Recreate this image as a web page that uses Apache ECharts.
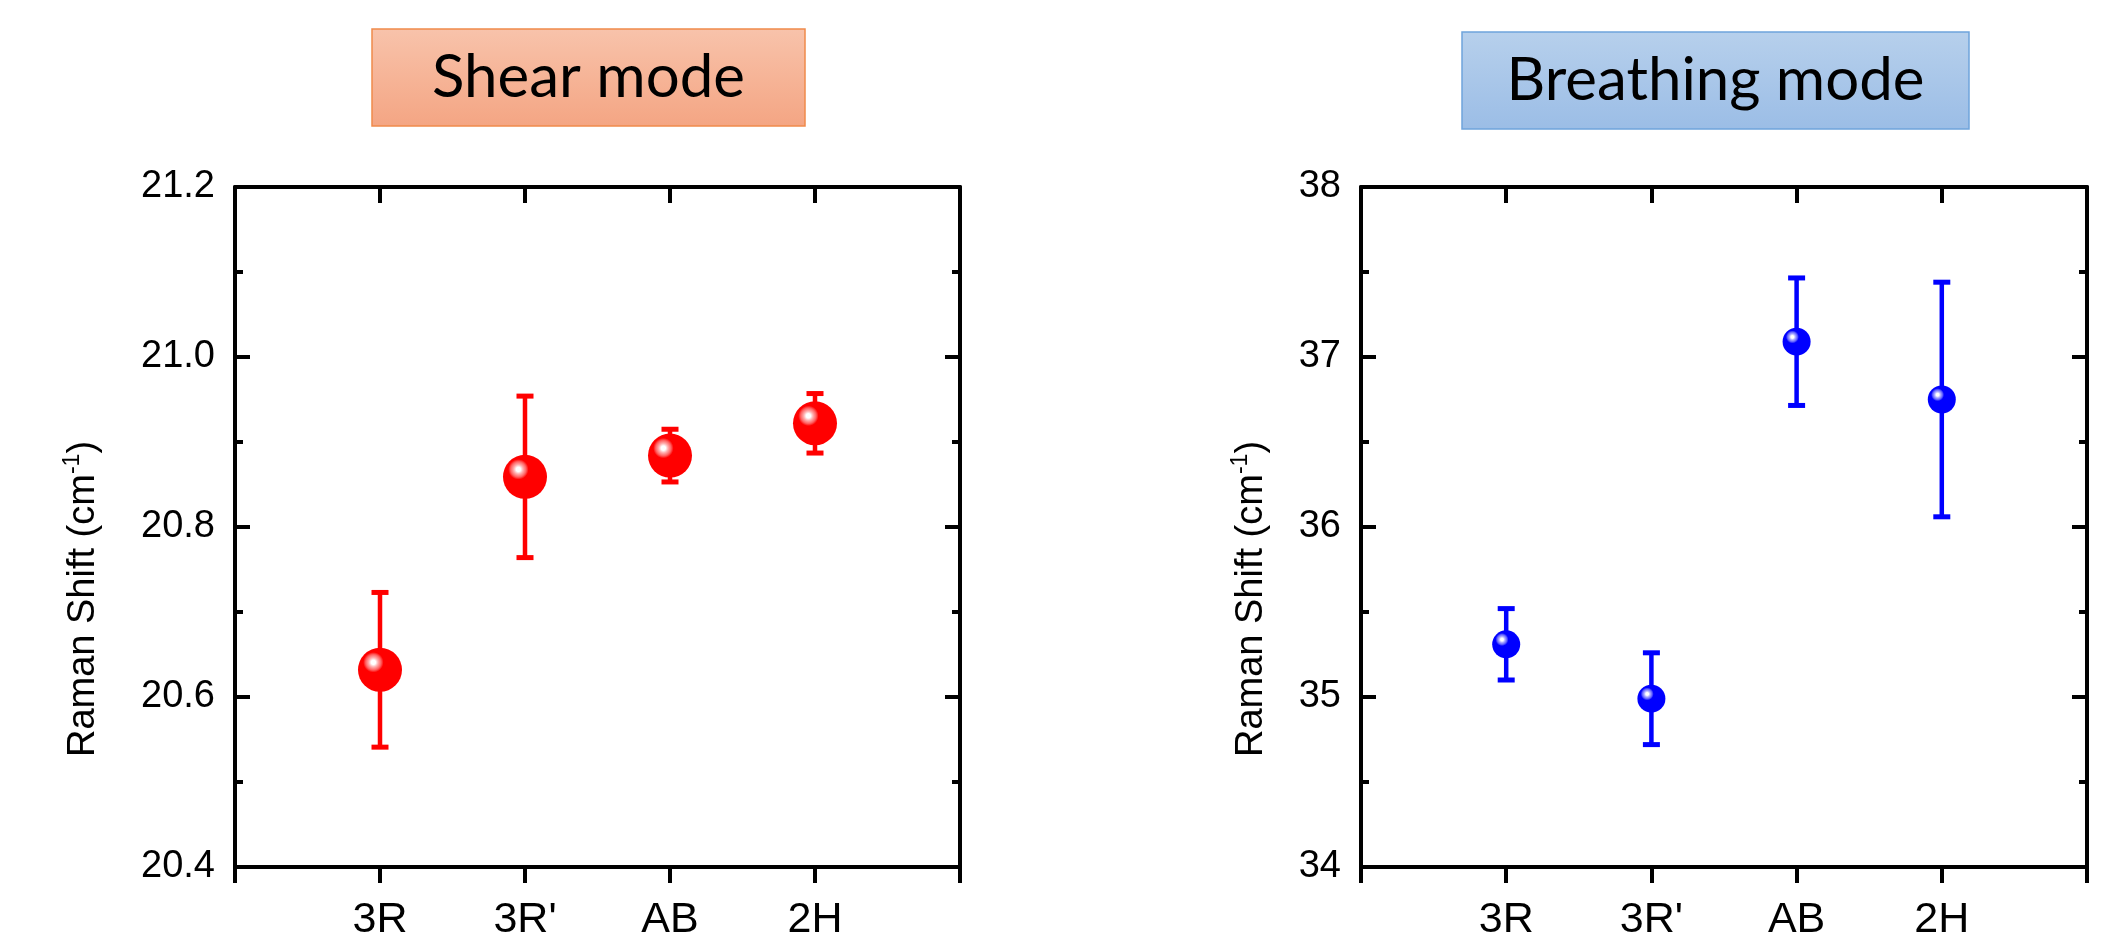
<!DOCTYPE html>
<html>
<head>
<meta charset="utf-8">
<script src="https://cdn.jsdelivr.net/npm/echarts@6/dist/echarts.min.js"></script>
<style>
html,body{margin:0;padding:0;background:#fff;}
#chart{width:2105px;height:951px;}
</style>
</head>
<body>
<div id="chart"></div>
<script>
const categories = ['3R', "3R'", 'AB', '2H'];
const shearValues = [20.632, 20.859, 20.884, 20.922];
const shearErrors = [0.091, 0.095, 0.031, 0.035];
const breathingValues = [35.31, 34.99, 37.09, 36.75];
const breathingErrors = [0.21, 0.27, 0.375, 0.69];
const shearRange = [20.4, 21.2, 0.2];
const breathingRange = [34, 38, 1];
const panelTitles = ['Shear mode', 'Breathing mode'];
const yAxisTitle = 'Raman Shift (cm';
const yAxisTitleSup = '-1';

const FONT = '"Liberation Sans", Arial, sans-serif';
const BOXFONT = 'Lato, "Open Sans", sans-serif';

const chart = echarts.init(document.getElementById('chart'), null, {renderer: 'canvas'});

function sphere(base, mid, light) {
  return {
    type: 'radial', x: 0.35, y: 0.33, r: 0.42,
    colorStops: [
      {offset: 0, color: '#ffffff'},
      {offset: 0.12, color: '#ffffff'},
      {offset: 0.25, color: light},
      {offset: 0.42, color: mid},
      {offset: 0.55, color: base},
      {offset: 1, color: base}
    ]
  };
}

function xAxes(gridIndex) {
  const common = {
    gridIndex, type: 'value', min: 0, max: 5, interval: 1,
    axisLine: {show: true, onZero: false, lineStyle: {color: '#000', width: 4}},
    splitLine: {show: false}
  };
  return [
    Object.assign({}, common, {
      position: 'bottom',
      axisTick: {show: true, inside: false, length: 16, lineStyle: {color: '#000', width: 4}},
      axisLabel: {
        show: true, margin: 32, color: '#000', fontSize: 43, fontFamily: FONT,
        showMinLabel: true, showMaxLabel: true,
        formatter: v => (v >= 1 && v <= categories.length) ? categories[Math.round(v) - 1] : ''
      }
    }),
    Object.assign({}, common, {
      position: 'top',
      axisTick: {show: true, inside: true, length: 16, lineStyle: {color: '#000', width: 4}},
      axisLabel: {show: false}
    })
  ];
}

function yAxes(gridIndex, range, digits) {
  const common = {
    gridIndex, type: 'value', min: range[0], max: range[1], interval: range[2],
    axisLine: {show: true, onZero: false, lineStyle: {color: '#000', width: 4}},
    axisTick: {show: true, inside: true, length: 15, lineStyle: {color: '#000', width: 4}},
    minorTick: {show: true, splitNumber: 2, length: 8, lineStyle: {color: '#000', width: 4}},
    splitLine: {show: false},
    minorSplitLine: {show: false}
  };
  return [
    Object.assign({}, common, {
      position: 'left',
      axisLabel: {show: true, margin: 20, color: '#000', fontSize: 38, fontFamily: FONT,
        formatter: v => v.toFixed(digits)}
    }),
    Object.assign({}, common, {
      position: 'right',
      axisLabel: {show: false}
    })
  ];
}

function errorSeries(xIdx, yIdx, values, errors, color) {
  return {
    type: 'custom', xAxisIndex: xIdx, yAxisIndex: yIdx, z: 2,
    data: values.map((v, i) => [i + 1, v - errors[i], v + errors[i]]),
    encode: {x: 0, y: [1, 2]},
    renderItem: function (params, api) {
      const x = api.value(0);
      const lo = api.coord([x, api.value(1)]);
      const hi = api.coord([x, api.value(2)]);
      const hw = 8.5;
      const style = {stroke: color, lineWidth: 4.5};
      const cap = {stroke: color, lineWidth: 5};
      return {
        type: 'group',
        children: [
          {type: 'line', shape: {x1: lo[0], y1: lo[1], x2: hi[0], y2: hi[1]}, style},
          {type: 'line', shape: {x1: lo[0] - hw, y1: lo[1], x2: lo[0] + hw, y2: lo[1]}, style: cap},
          {type: 'line', shape: {x1: hi[0] - hw, y1: hi[1], x2: hi[0] + hw, y2: hi[1]}, style: cap}
        ]
      };
    }
  };
}

function scatterSeries(xIdx, yIdx, values, size, fill) {
  return {
    type: 'scatter', xAxisIndex: xIdx, yAxisIndex: yIdx, z: 3,
    symbol: 'circle', symbolSize: size,
    data: values.map((v, i) => [i + 1, v]),
    itemStyle: {color: fill, opacity: 1},
    emphasis: {disabled: true}
  };
}

function headerBox(x, y, w, h, top, bottom, stroke, text) {
  return {
    type: 'group', x, y,
    children: [
      {type: 'rect', shape: {x: 0, y: 0, width: w, height: h},
        style: {fill: {type: 'linear', x: 0, y: 0, x2: 0, y2: 1,
          colorStops: [{offset: 0, color: top}, {offset: 1, color: bottom}]},
          stroke, lineWidth: 1.5}},
      {type: 'text', x: w / 2, y: h / 2,
        style: {text, fill: '#000', fontSize: 60, fontFamily: BOXFONT,
          textAlign: 'center', textVerticalAlign: 'middle'}}
    ]
  };
}

function axisTitle(x, y) {
  return {
    type: 'text', x, y, rotation: Math.PI / 2,
    style: {
      text: '{a|' + yAxisTitle + '}{s|' + yAxisTitleSup + '}{a|)}',
      rich: {
        a: {fontSize: 38, fontFamily: FONT, fill: '#000', lineHeight: 42, verticalAlign: 'bottom'},
        s: {fontSize: 23, fontFamily: FONT, fill: '#000', lineHeight: 42, verticalAlign: 'top'}
      },
      textAlign: 'center', textVerticalAlign: 'middle'
    }
  };
}

const option = {
  backgroundColor: '#ffffff',
  animation: false,
  grid: [
    {left: 235, top: 187, width: 725, height: 680},
    {left: 1361, top: 187, width: 726, height: 680}
  ],
  xAxis: [...xAxes(0), ...xAxes(1)],
  yAxis: [...yAxes(0, shearRange, 1), ...yAxes(1, breathingRange, 0)],
  series: [
    errorSeries(0, 0, shearValues, shearErrors, '#ff0000'),
    scatterSeries(0, 0, shearValues, 44, sphere('#ff0000', '#ff6060', '#ffb0b0')),
    errorSeries(2, 2, breathingValues, breathingErrors, '#0000ff'),
    scatterSeries(2, 2, breathingValues, 28, sphere('#0000ff', '#6060ff', '#b0b0ff'))
  ],
  graphic: [
    headerBox(372, 29, 433, 97, '#f8c3ab', '#f4a583', '#f08a4b', panelTitles[0]),
    headerBox(1462, 32, 507, 97, '#b7d0ec', '#9bbde6', '#6fa4dc', panelTitles[1]),
    axisTitle(82, 599),
    axisTitle(1250, 599)
  ]
};
chart.setOption(option);
</script>
</body>
</html>
